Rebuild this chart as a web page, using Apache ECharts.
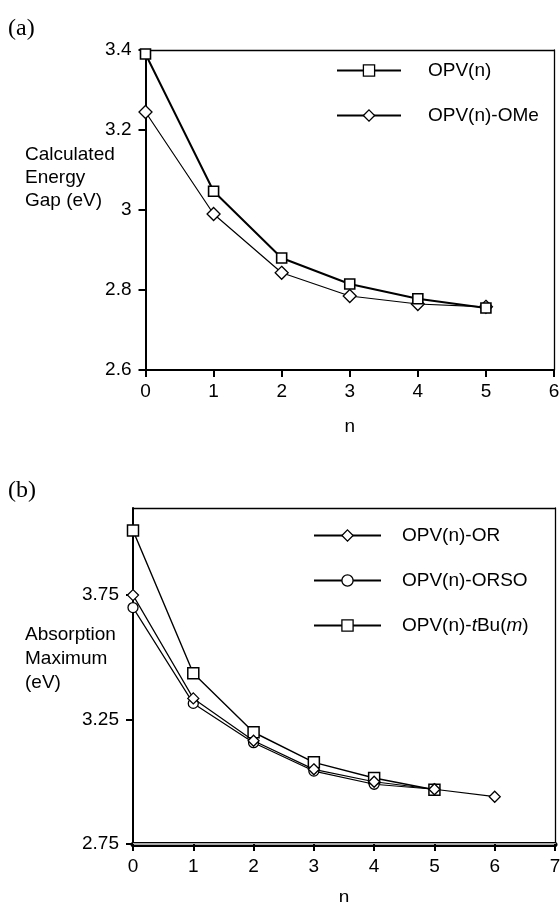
<!DOCTYPE html>
<html><head><meta charset="utf-8">
<script src="https://cdn.jsdelivr.net/npm/echarts@6/dist/echarts.min.js"></script>
<style>html,body{margin:0;padding:0;background:#fff;}#c{width:560px;height:902px;}</style>
</head><body><div id="c"></div>
<script>
// Panel (a)
const nA = [0, 1, 2, 3, 4, 5];
const opvN = [3.39, 3.047, 2.88, 2.815, 2.778, 2.755];
const opvOMe = [3.245, 2.99, 2.843, 2.785, 2.765, 2.758];
const xTicksA = [0, 1, 2, 3, 4, 5, 6];
const yTicksA = [2.6, 2.8, 3.0, 3.2, 3.4];
// Panel (b)
const nOR = [0, 1, 2, 3, 4, 5, 6];
const opvOR = [3.75, 3.335, 3.165, 3.05, 3.0, 2.97, 2.94];
const nORSO = [0, 1, 2, 3, 4, 5];
const opvORSO = [3.70, 3.315, 3.157, 3.043, 2.99, 2.97];
const nTBu = [0, 1, 2, 3, 4, 5];
const opvTBu = [4.01, 3.436, 3.199, 3.078, 3.015, 2.968];
const xTicksB = [0, 1, 2, 3, 4, 5, 6, 7];
const yTicksB = [2.75, 3.25, 3.75];

const pairs = (xs, ys) => xs.map((x, i) => [x, ys[i]]);
const FONT = 'Liberation Sans';
const FS = 19;
const chart = echarts.init(document.getElementById('c'), null, {renderer: 'canvas'});

const lab = {color: '#000', fontFamily: FONT, fontSize: FS};
function mkTick(vals) {
  return {show: true, inside: false, length: 7, customValues: vals, lineStyle: {color: '#000', width: 2}};
}
function xMain(grid, max, ticks, margin, gap, lineW) {
  return {type: 'value', gridIndex: grid, min: 0, max: max, interval: 1, position: 'bottom',
    name: 'n', nameLocation: 'middle', nameGap: gap,
    nameTextStyle: {color: '#000', fontFamily: FONT, fontSize: FS},
    axisLine: {show: true, onZero: false, lineStyle: {color: '#000', width: lineW}},
    axisTick: mkTick(ticks),
    axisLabel: Object.assign({margin: margin, customValues: ticks}, lab),
    splitLine: {show: false}};
}
function frameX(grid, max) {
  return {type: 'value', gridIndex: grid, min: 0, max: max, position: 'top',
    axisLine: {show: true, onZero: false, lineStyle: {color: '#000', width: 1.3}},
    axisTick: {show: false}, axisLabel: {show: false}, splitLine: {show: false}};
}
function frameY(grid, min, max) {
  return {type: 'value', gridIndex: grid, min: min, max: max, position: 'right',
    axisLine: {show: true, onZero: false, lineStyle: {color: '#000', width: 1.3}},
    axisTick: {show: false}, axisLabel: {show: false}, splitLine: {show: false}};
}
const titleStyle = {fontFamily: FONT, fontSize: FS, fontWeight: 'normal', color: '#000'};
const mark = {color: '#fff', borderColor: '#000', borderWidth: 1.3};

const option = {
  backgroundColor: '#fff',
  animation: false,
  title: [
    {text: '(a)', left: 8, top: 17, padding: 0, textStyle: {fontFamily: 'Liberation Serif', fontSize: 24, fontWeight: 'normal', color: '#000'}},
    {text: '(b)', left: 8, top: 479, padding: 0, textStyle: {fontFamily: 'Liberation Serif', fontSize: 24, fontWeight: 'normal', color: '#000'}},
    {text: 'Calculated\nEnergy\nGap (eV)', left: 25, top: 143, padding: 0, textStyle: Object.assign({lineHeight: 23}, titleStyle)},
    {text: 'Absorption\nMaximum\n(eV)', left: 25, top: 623, padding: 0, textStyle: Object.assign({lineHeight: 24}, titleStyle)}
  ],
  grid: [
    {left: 145.5, top: 50, width: 408.5, height: 320, containLabel: false, outerBoundsMode: 'none'},
    {left: 133, top: 508, width: 422, height: 336, containLabel: false, outerBoundsMode: 'none'}
  ],
  xAxis: [
    xMain(0, 6, xTicksA, 12, 47, 2),
    frameX(0, 6),
    xMain(1, 7, xTicksB, 13, 44, 5),
    frameX(1, 7),
    {type: 'value', gridIndex: 1, min: 0, max: 7, position: 'bottom',
      axisLine: {show: true, onZero: false, lineStyle: {color: '#aaa', width: 2}},
      axisTick: {show: false}, axisLabel: {show: false}, splitLine: {show: false}}
  ],
  yAxis: [
    {type: 'value', gridIndex: 0, min: 2.6, max: 3.4, interval: 0.2, position: 'left',
      axisLine: {show: true, onZero: false, lineStyle: {color: '#000', width: 2}},
      axisTick: mkTick(yTicksA),
      axisLabel: Object.assign({margin: 14, customValues: yTicksA}, lab),
      splitLine: {show: false}},
    frameY(0, 2.6, 3.4),
    {type: 'value', gridIndex: 1, min: 2.75, max: 4.1, position: 'left',
      axisLine: {show: true, onZero: false, lineStyle: {color: '#000', width: 2}},
      axisTick: mkTick(yTicksB),
      axisLabel: Object.assign({margin: 14, customValues: yTicksB}, lab),
      splitLine: {show: false}},
    frameY(1, 2.75, 4.1)
  ],
  legend: [
    {orient: 'vertical', left: 336, top: 61, padding: 0, itemWidth: 64, itemHeight: 14, itemGap: 26,
      data: ['OPV(n)', 'OPV(n)-OMe'], itemStyle: mark,
      textStyle: {fontFamily: FONT, fontSize: FS, color: '#000', padding: [0, 0, 0, 22]}},
    {orient: 'vertical', left: 313, top: 526, padding: 0, itemWidth: 67, itemHeight: 14, itemGap: 26,
      data: ['OPV(n)-OR', 'OPV(n)-ORSO', 'OPV(n)-tBu(m)'], itemStyle: mark,
      formatter: function (name) {
        if (name === 'OPV(n)-tBu(m)') return '{n|OPV(n)-}{i|t}{n|Bu(}{i|m}{n|)}';
        return '{n|' + name + '}';
      },
      textStyle: {fontFamily: FONT, fontSize: FS, color: '#000', padding: [0, 0, 0, 16],
        rich: {n: {fontFamily: FONT, fontSize: FS, color: '#000'},
               i: {fontFamily: FONT, fontSize: FS, color: '#000', fontStyle: 'italic'}}}}
  ],
  series: [
    {name: 'OPV(n)', type: 'line', xAxisIndex: 0, yAxisIndex: 0, z: 5,
      data: pairs(nA, opvN), symbol: 'rect', symbolSize: 10,
      lineStyle: {color: '#000', width: 2},
      itemStyle: {color: '#fff', borderColor: '#000', borderWidth: 1.6}},
    {name: 'OPV(n)-OMe', type: 'line', xAxisIndex: 0, yAxisIndex: 0, z: 3,
      data: pairs(nA, opvOMe), symbol: 'diamond', symbolSize: 13,
      lineStyle: {color: '#000', width: 1.2},
      itemStyle: {color: '#fff', borderColor: '#000', borderWidth: 1.3}},
    {name: 'OPV(n)-OR', type: 'line', xAxisIndex: 2, yAxisIndex: 2, z: 6,
      data: pairs(nOR, opvOR), symbol: 'diamond', symbolSize: 11,
      lineStyle: {color: '#000', width: 1.2},
      itemStyle: {color: '#fff', borderColor: '#000', borderWidth: 1.3}},
    {name: 'OPV(n)-ORSO', type: 'line', xAxisIndex: 2, yAxisIndex: 2, z: 3,
      data: pairs(nORSO, opvORSO), symbol: 'circle', symbolSize: 10,
      lineStyle: {color: '#000', width: 1.2},
      itemStyle: {color: '#fff', borderColor: '#000', borderWidth: 1.3}},
    {name: 'OPV(n)-tBu(m)', type: 'line', xAxisIndex: 2, yAxisIndex: 2, z: 4,
      data: pairs(nTBu, opvTBu), symbol: 'rect', symbolSize: 11,
      lineStyle: {color: '#000', width: 1.4},
      itemStyle: {color: '#fff', borderColor: '#000', borderWidth: 1.5}}
  ]
};
chart.setOption(option);
</script>
</body></html>
